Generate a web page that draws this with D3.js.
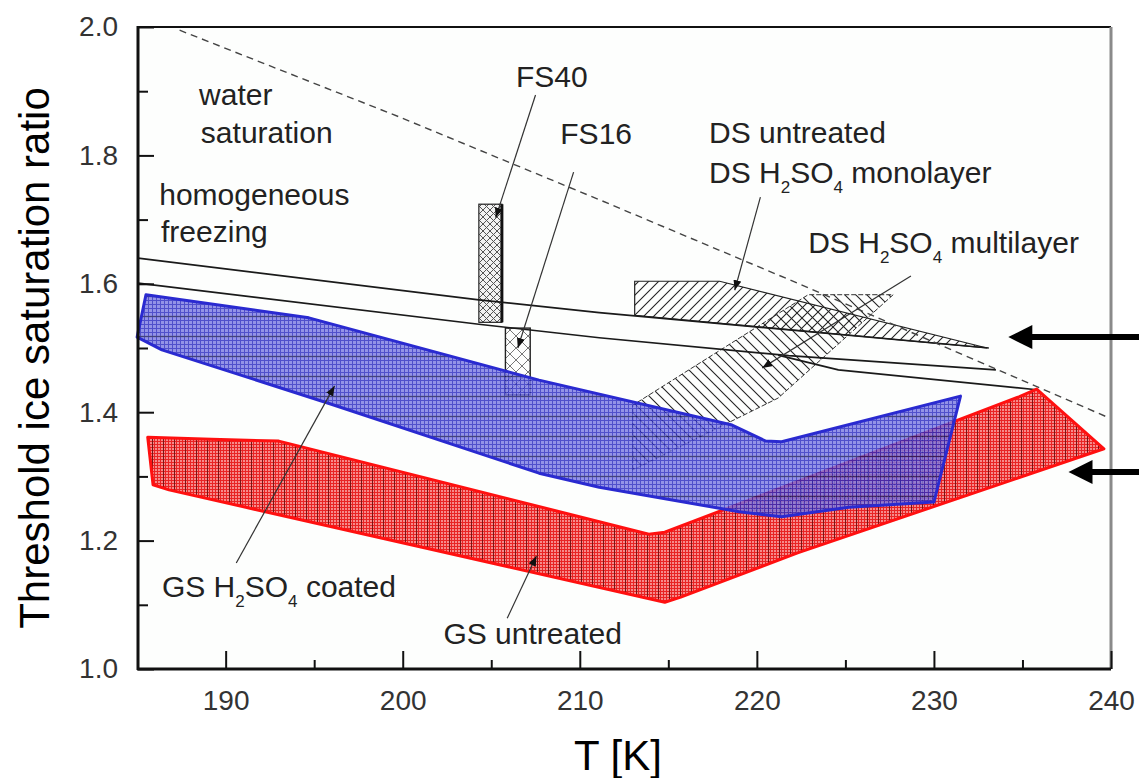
<!DOCTYPE html>
<html>
<head>
<meta charset="utf-8">
<script src="https://cdn.jsdelivr.net/npm/d3@7"></script>
<style>
html, body { margin: 0; padding: 0; background: #fff; }
svg { display: block; }
text { font-family: "Liberation Sans", Arial, sans-serif; }
</style>
</head>
<body>
<svg id="chart"></svg>
<script>
// Threshold ice saturation ratio vs temperature.
let svgWidth = 1139;
let svgHeight = 778;
let margin = {top: 27, right: 28, bottom: 109, left: 138};

let xTicks = [190, 200, 210, 220, 230, 240];
let xMinor = [195, 205, 215, 225, 235];
let yTicks = [1.0, 1.2, 1.4, 1.6, 1.8, 2.0];
let yMinor = [1.1, 1.3, 1.5, 1.7, 1.9];

// [T (K), S_ice]
let waterSaturation = [[187.4, 1.995], [199.8, 1.860], [211.1, 1.731], [222.3, 1.601], [239.9, 1.391]];
let homFreezing1 = [[185.05, 1.640], [204.3, 1.575], [211.1, 1.555], [233.1, 1.500]];
let homFreezing2 = [[185.05, 1.601], [204.3, 1.537], [211.1, 1.516], [221.8, 1.488], [233.5, 1.466]];
let homFreezing3 = [[221.2, 1.489], [224.6, 1.466], [235.8, 1.435]];

let dsUntreated = [[213.1, 1.604], [217.9, 1.604], [233.0, 1.500], [213.1, 1.551]];
let dsMultilayer = [[213.0, 1.310], [213.0, 1.411], [222.9, 1.583], [227.7, 1.583], [221.2, 1.422]];
let fs40T = [204.3, 205.6];
let fs40S = [1.540, 1.724];
let fs16T = [205.8, 207.2];
let fs16S = [1.427, 1.531];

let gsUntreated = [
    [185.6, 1.361], [189.2, 1.358], [193.0, 1.355], [194.3, 1.346], [213.9, 1.210], [214.8, 1.213],
    [234.8, 1.424], [235.8, 1.436], [239.6, 1.343], [222.3, 1.181], [215.7, 1.112], [214.8, 1.104],
    [186.8, 1.279], [185.9, 1.287]
];
let gsCoated = [
    [185.5, 1.583], [194.7, 1.547], [207.7, 1.450], [218.6, 1.380], [220.5, 1.355], [221.4, 1.354],
    [231.5, 1.425], [230.0, 1.260], [225.2, 1.252], [221.4, 1.237], [219.0, 1.245], [211.1, 1.283],
    [207.7, 1.305], [195.8, 1.414], [186.4, 1.497], [185.0, 1.517]
];

// leader lines: [from, to]
let leaders = [
    [[207.5, 1.894], [205.25, 1.703]],   // FS40
    [[209.65, 1.774], [206.5, 1.500]],   // FS16
    [[220.2, 1.735], [218.75, 1.590]],   // DS untreated / monolayer
    [[228.7, 1.612], [220.3, 1.469]],    // DS multilayer
    [[190.6, 1.165], [196.15, 1.441]],   // GS coated
    [[205.9, 1.079], [207.55, 1.176]]    // GS untreated
];

// labels: position (T, S) at left baseline, parts [text, subscript?]
let labels = [
    {t: 188.5, s: 1.878, parts: [["water", 0]]},
    {t: 188.6, s: 1.819, parts: [["saturation", 0]]},
    {t: 186.25, s: 1.723, parts: [["homogeneous", 0]]},
    {t: 186.35, s: 1.665, parts: [["freezing", 0]]},
    {t: 206.4, s: 1.906, parts: [["FS40", 0]]},
    {t: 208.9, s: 1.818, parts: [["FS16", 0]]},
    {t: 217.3, s: 1.819, parts: [["DS untreated", 0]]},
    {t: 217.3, s: 1.757, parts: [["DS H", 0], ["2", 1], ["SO", 0], ["4", 1], [" monolayer", 0]]},
    {t: 222.9, s: 1.648, parts: [["DS H", 0], ["2", 1], ["SO", 0], ["4", 1], [" multilayer", 0]]},
    {t: 186.4, s: 1.112, parts: [["GS H", 0], ["2", 1], ["SO", 0], ["4", 1], [" coated", 0]]},
    {t: 202.3, s: 1.039, parts: [["GS untreated", 0]]}
];

let bigArrowS = [1.517, 1.307];
let bigArrowTipT = [234.2, 237.6];
let bigArrowTailT = 241.7;

let svg = d3.select("#chart")
    .attr("width", svgWidth)
    .attr("height", svgHeight);

let xScale = d3.scaleLinear().domain([185.05, 240]).range([margin.left, 1111]);
let yScale = d3.scaleLinear().domain([1, 2]).range([669, margin.top]);
let line = d3.line().x(d => xScale(d[0])).y(d => yScale(d[1]));
let closed = d3.line().x(d => xScale(d[0])).y(d => yScale(d[1])).curve(d3.curveLinearClosed);

// Patterns
let defs = svg.append("defs");

let fwd = defs.append("pattern").attr("id", "hatchFwd")
    .attr("patternUnits", "userSpaceOnUse").attr("width", 10).attr("height", 10);
fwd.append("path").attr("d", "M-2,2L2,-2M0,10L10,0M8,12L12,8")
    .attr("stroke", "#222").attr("stroke-width", 1.1);

let back = defs.append("pattern").attr("id", "hatchBack")
    .attr("patternUnits", "userSpaceOnUse").attr("width", 11).attr("height", 11);
back.append("path").attr("d", "M-2,9L2,13M0,0L11,11M9,-2L13,2")
    .attr("stroke", "#222").attr("stroke-width", 1.1);

let dense = defs.append("pattern").attr("id", "fs40Fill")
    .attr("patternUnits", "userSpaceOnUse").attr("width", 7).attr("height", 7);
dense.append("rect").attr("width", 7).attr("height", 7).attr("fill", "#f2f2f2");
dense.append("path").attr("d", "M0,0L7,7M7,0L0,7")
    .attr("stroke", "#555").attr("stroke-width", 1);

let cross = defs.append("pattern").attr("id", "fs16Fill")
    .attr("patternUnits", "userSpaceOnUse").attr("width", 12).attr("height", 12);
cross.append("path").attr("d", "M0,0L12,12M12,0L0,12")
    .attr("stroke", "#555").attr("stroke-width", 0.8);

let redFill = defs.append("pattern").attr("id", "redFill")
    .attr("patternUnits", "userSpaceOnUse").attr("width", 11).attr("height", 3);
redFill.append("rect").attr("width", 11).attr("height", 3).attr("fill", "#f68a8a");
redFill.append("path").attr("d", "M0,0.5H11M0.5,0V3M3.5,0V3M6.5,0V3")
    .attr("stroke", "#e82424").attr("stroke-width", 1);
redFill.append("path").attr("d", "M9.5,0V3")
    .attr("stroke", "#7a1414").attr("stroke-width", 1);

let blueFill = defs.append("pattern").attr("id", "blueFill")
    .attr("patternUnits", "userSpaceOnUse").attr("width", 4).attr("height", 20);
blueFill.append("rect").attr("width", 4).attr("height", 20).attr("fill", "#7c7ce2");
blueFill.append("path").attr("d", "M0.5,0V20M0,0.5H4M0,4.5H4M0,8.5H4M0,12.5H4")
    .attr("stroke", "#2a2ac0").attr("stroke-width", 1);
blueFill.append("path").attr("d", "M0,16.5H4")
    .attr("stroke", "#1a1a60").attr("stroke-width", 1.3);

defs.append("marker").attr("id", "head")
    .attr("viewBox", "0 0 10 8").attr("refX", 10).attr("refY", 4)
    .attr("markerWidth", 10).attr("markerHeight", 8)
    .attr("markerUnits", "userSpaceOnUse").attr("orient", "auto")
    .append("path").attr("d", "M0,0L10,4L0,8Z").attr("fill", "#111");

// Plot background
svg.append("rect")
    .attr("x", xScale(185.05)).attr("y", yScale(2))
    .attr("width", xScale(240) - xScale(185.05))
    .attr("height", yScale(1) - yScale(2))
    .attr("fill", "#fdfefd");

let view = svg.append("g").classed("view", true);

// DS regions
view.append("path").attr("d", closed(dsUntreated))
    .attr("fill", "url(#hatchFwd)").attr("stroke", "#222").attr("stroke-width", 1.2);
view.append("path").attr("d", closed(dsMultilayer))
    .attr("fill", "url(#hatchBack)").attr("stroke", "#333").attr("stroke-width", 1)
    .attr("stroke-dasharray", "5,2");

// FS boxes
view.append("rect")
    .attr("x", xScale(fs40T[0])).attr("y", yScale(fs40S[1]))
    .attr("width", xScale(fs40T[1]) - xScale(fs40T[0]))
    .attr("height", yScale(fs40S[0]) - yScale(fs40S[1]))
    .attr("fill", "url(#fs40Fill)").attr("stroke", "#222").attr("stroke-width", 1.2);
view.append("line")
    .attr("x1", xScale(fs40T[1])).attr("x2", xScale(fs40T[1]))
    .attr("y1", yScale(fs40S[1])).attr("y2", yScale(fs40S[0]))
    .attr("stroke", "#111").attr("stroke-width", 3);
view.append("rect")
    .attr("x", xScale(fs16T[0])).attr("y", yScale(fs16S[1]))
    .attr("width", xScale(fs16T[1]) - xScale(fs16T[0]))
    .attr("height", yScale(fs16S[0]) - yScale(fs16S[1]))
    .attr("fill", "url(#fs16Fill)").attr("stroke", "#222").attr("stroke-width", 1.4);

// Homogeneous freezing lines and water saturation
[homFreezing1, homFreezing2, homFreezing3].forEach(d => {
    view.append("path").attr("d", line(d))
        .attr("fill", "none").attr("stroke", "#1a1a1a").attr("stroke-width", 1.7);
});
view.append("path").attr("d", line(waterSaturation))
    .attr("fill", "none").attr("stroke", "#444").attr("stroke-width", 1.4)
    .attr("stroke-dasharray", "7,5");

// GS regions
view.append("path").attr("d", closed(gsUntreated))
    .attr("fill", "url(#redFill)").attr("stroke", "#ff1010")
    .attr("stroke-width", 3).attr("stroke-linejoin", "round");
view.append("path").attr("d", closed(gsCoated))
    .attr("fill", "url(#blueFill)").attr("fill-opacity", 0.82)
    .attr("stroke", "#2a2ad0").attr("stroke-width", 3).attr("stroke-linejoin", "round");

// Leaders
view.selectAll("line.leader")
    .data(leaders)
    .join("line")
    .classed("leader", true)
    .attr("x1", d => xScale(d[0][0])).attr("y1", d => yScale(d[0][1]))
    .attr("x2", d => xScale(d[1][0])).attr("y2", d => yScale(d[1][1]))
    .attr("stroke", "#333").attr("stroke-width", 1.2)
    .attr("marker-end", "url(#head)");

// Labels
let labelText = view.selectAll("text.label")
    .data(labels)
    .join("text")
    .classed("label", true)
    .attr("x", d => xScale(d.t))
    .attr("y", d => yScale(d.s))
    .attr("font-size", 30)
    .attr("fill", "#222");
labelText.each(function(d) {
    let el = d3.select(this);
    let shifted = false;
    d.parts.forEach(p => {
        let ts = el.append("tspan").text(p[0]);
        if (p[1]) {
            ts.attr("font-size", 17).attr("dy", shifted ? 0 : 10);
            shifted = true;
        } else {
            ts.attr("dy", shifted ? -10 : 0);
            shifted = false;
        }
    });
});

// Frame
let x0 = xScale(185.05), x1 = xScale(240), y0 = yScale(1), y1 = yScale(2);
svg.append("line").attr("x1", x0).attr("x2", x1).attr("y1", y1).attr("y2", y1)
    .attr("stroke", "#111").attr("stroke-width", 2);
svg.append("line").attr("x1", x1).attr("x2", x1).attr("y1", y1).attr("y2", y0)
    .attr("stroke", "#8a8a8a").attr("stroke-width", 3);

// Axes
let xAxis = svg.append("g")
    .classed("axis x-axis", true)
    .attr("transform", `translate(0,${y0})`)
    .call(d3.axisBottom(xScale).tickValues(xTicks).tickSize(-18).tickPadding(21).tickFormat(d3.format("d")));
let xMinorAxis = svg.append("g")
    .attr("transform", `translate(0,${y0})`)
    .call(d3.axisBottom(xScale).tickValues(xMinor).tickSize(-9).tickFormat(""));
let yAxis = svg.append("g")
    .classed("axis y-axis", true)
    .attr("transform", `translate(${x0},0)`)
    .call(d3.axisLeft(yScale).tickValues(yTicks).tickSize(-16).tickPadding(20).tickFormat(d3.format(".1f")));
let yMinorAxis = svg.append("g")
    .attr("transform", `translate(${x0},0)`)
    .call(d3.axisLeft(yScale).tickValues(yMinor).tickSize(-10).tickFormat(""));

svg.selectAll(".domain").remove();
svg.selectAll(".tick line").attr("stroke", "#111").attr("stroke-width", 2);
svg.selectAll(".axis .tick text")
    .attr("font-size", 28)
    .attr("fill", "#333")
    .attr("font-family", "'Liberation Sans', Arial, sans-serif");

svg.append("line").attr("x1", x0).attr("x2", x0).attr("y1", y1 - 1).attr("y2", y0 + 1)
    .attr("stroke", "#111").attr("stroke-width", 3);
svg.append("line").attr("x1", x0 - 1).attr("x2", x1).attr("y1", y0).attr("y2", y0)
    .attr("stroke", "#111").attr("stroke-width", 3);

// Axis titles
svg.append("text")
    .attr("transform", `translate(49,${(y0 + y1) / 2 + 10}) rotate(-90)`)
    .attr("text-anchor", "middle")
    .attr("font-size", 42)
    .attr("fill", "#000")
    .text("Threshold ice saturation ratio");
svg.append("text")
    .attr("x", 618).attr("y", 770)
    .attr("text-anchor", "middle")
    .attr("font-size", 42)
    .attr("fill", "#000")
    .text("T [K]");

// Big arrows on the right
bigArrowS.forEach((s, i) => {
    let yy = yScale(s);
    let tip = xScale(bigArrowTipT[i]);
    let tail = xScale(bigArrowTailT);
    svg.append("line")
        .attr("x1", tip + 20).attr("x2", tail).attr("y1", yy).attr("y2", yy)
        .attr("stroke", "#000").attr("stroke-width", 6);
    svg.append("path")
        .attr("d", `M${tip},${yy}L${tip + 24},${yy - 12}L${tip + 24},${yy + 12}Z`)
        .attr("fill", "#000");
});
</script>
</body>
</html>
